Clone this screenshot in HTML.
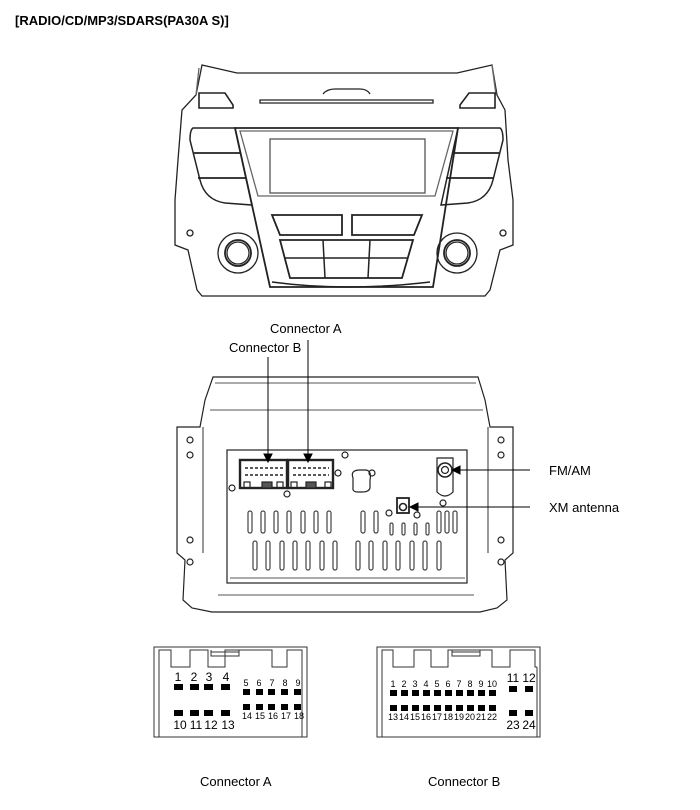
<!DOCTYPE html>
<html><head><meta charset="utf-8"><style>
html,body{margin:0;padding:0;background:#fff;}
svg{display:block;}
text{font-family:"Liberation Sans",Arial,sans-serif;fill:#000;}
</style></head><body>
<svg width="700" height="810" viewBox="0 0 700 810" xmlns="http://www.w3.org/2000/svg">
<text x="15" y="25" font-size="13" font-weight="bold">[RADIO/CD/MP3/SDARS(PA30A S)]</text>

<!-- FRONT PANEL -->
<g fill="none" stroke="#222" stroke-width="1.3">
  <path d="M202,65 L237,73 L457,73 L492,65 L497,95 L505,110 L508,160 L513,200 L513,245 L500,250 L490,290 L485,296 L202,296 L197,290 L188,250 L175,245 L175,200 L178,160 L182,110 L196,95 Z"/>
  <path d="M196,95 L199,68 M492,65 L496,95" stroke="#666"/>
  <path d="M260,100 L433,100 L433,103 L260,103 Z"/>
  <path d="M323,94 Q327,89 335,89 L360,89 Q367,89 370,94"/>
  <path d="M199,93 L225,93 L233,105 L233,108 L199,108 Z" stroke-width="1.6"/>
  <path d="M469,93 L495,93 L495,108 L460,108 L460,105 Z" stroke-width="1.6"/>
  <path d="M235,128 L458,128 L433,287 L270,287 Z" stroke-width="1.8"/>
  <path d="M240,131 L453,131 L435,196 L258,196 Z" stroke="#666"/>
  <rect x="270" y="139" width="155" height="54" stroke="#555"/>
  <path d="M193,128 L235,128 L252,205 L225,203 Q205,200 200,180 L190,140 Q190,130 193,128 Z" stroke-width="1.5"/>
  <path d="M194,153 L240,153 M198,178 L246,178" stroke-width="1.8"/>
  <path d="M458,128 L500,128 Q503,130 503,140 L493,180 Q488,200 468,203 L441,205 Z" stroke-width="1.5"/>
  <path d="M452,153 L499,153 M446,178 L494,178" stroke-width="1.8"/>
  <path d="M272,215 L342,215 L342,235 L280,235 Z" stroke-width="1.8"/>
  <path d="M352,215 L422,215 L414,235 L352,235 Z" stroke-width="1.8"/>
  <path d="M280,240 L413,240 L402,278 L290,278 Z" stroke-width="1.8"/>
  <path d="M323,240 L325,278 M370,240 L368,278 M284,258 L408,258" stroke-width="1.5"/>
  <path d="M272,282 Q346,292 430,282" stroke-width="1.5"/>
  <circle cx="238" cy="253" r="20"/><circle cx="238" cy="253" r="13" stroke-width="1.8"/><circle cx="238" cy="253" r="11"/>
  <circle cx="457" cy="253" r="20"/><circle cx="457" cy="253" r="13" stroke-width="1.8"/><circle cx="457" cy="253" r="11"/>
  <circle cx="190" cy="233" r="3"/><circle cx="503" cy="233" r="3"/>
</g>

<text x="270" y="333" font-size="13">Connector A</text>
<text x="229" y="352" font-size="13">Connector B</text>

<!-- REAR VIEW -->
<g fill="none" stroke="#222" stroke-width="1.2">
  <path d="M213,377 L478,377 L485,400 L490,427 L513,427 L513,553 L505,560 L507,600 L497,608 L480,612 L212,612 L192,608 L183,600 L185,560 L177,553 L177,427 L200,427 L205,400 Z"/>
  <path d="M215,383 L476,383 M210,410 L483,410" stroke="#777"/>
  <rect x="227" y="450" width="240" height="133"/>
  <path d="M230,578 L465,578 M218,595 L474,595" stroke="#777"/>
  <path d="M203,427 L203,553 M488,427 L488,553" stroke="#555"/>
  <circle cx="190" cy="440" r="3"/><circle cx="190" cy="455" r="3"/><circle cx="190" cy="540" r="3"/><circle cx="190" cy="562" r="3"/>
  <circle cx="501" cy="440" r="3"/><circle cx="501" cy="455" r="3"/><circle cx="501" cy="540" r="3"/><circle cx="501" cy="562" r="3"/>
  <rect x="240" y="460" width="47" height="28" stroke-width="2.4"/>
  <rect x="288" y="460" width="45" height="28" stroke-width="2.4"/>
  <path d="M245,468 L283,468 M245,475 L283,475 M293,468 L329,468 M293,475 L329,475" stroke-dasharray="3,2" stroke-width="1.4"/>
  <rect x="244" y="482" width="6" height="6"/><rect x="262" y="482" width="10" height="6" fill="#555"/><rect x="277" y="482" width="6" height="6"/>
  <rect x="291" y="482" width="6" height="6"/><rect x="306" y="482" width="10" height="6" fill="#555"/><rect x="325" y="482" width="6" height="6"/>
  <path d="M353,478 Q350,470 360,470 L365,470 Q372,470 370,480 L370,487 Q370,492 362,492 L358,492 Q352,492 353,487 Z"/>
  <circle cx="345" cy="455" r="3"/><circle cx="338" cy="473" r="3"/><circle cx="372" cy="473" r="3"/>
  <circle cx="287" cy="494" r="3"/><circle cx="232" cy="488" r="3"/><circle cx="443" cy="503" r="3"/>
  <circle cx="389" cy="513" r="3"/><circle cx="417" cy="515" r="3"/>
  <path d="M437,458 L453,458 L453,492 Q445,500 437,492 Z"/>
  <circle cx="445" cy="470" r="7" stroke-width="1.6"/><circle cx="445" cy="470" r="3.5"/>
  <rect x="397" y="498" width="12" height="15" stroke-width="1.8"/>
  <circle cx="403" cy="507" r="3.5" stroke-width="1.6"/>
  <g stroke="#444">
    <rect x="248" y="511" width="4" height="22" rx="2"/><rect x="261" y="511" width="4" height="22" rx="2"/>
    <rect x="274" y="511" width="4" height="22" rx="2"/><rect x="287" y="511" width="4" height="22" rx="2"/>
    <rect x="301" y="511" width="4" height="22" rx="2"/><rect x="314" y="511" width="4" height="22" rx="2"/>
    <rect x="327" y="511" width="4" height="22" rx="2"/>
    <rect x="361" y="511" width="4" height="22" rx="2"/><rect x="374" y="511" width="4" height="22" rx="2"/>
    <rect x="437" y="511" width="4" height="22" rx="2"/><rect x="445" y="511" width="4" height="22" rx="2"/>
    <rect x="453" y="511" width="4" height="22" rx="2"/>
    <rect x="253" y="541" width="4" height="29" rx="2"/><rect x="266" y="541" width="4" height="29" rx="2"/>
    <rect x="280" y="541" width="4" height="29" rx="2"/><rect x="293" y="541" width="4" height="29" rx="2"/>
    <rect x="306" y="541" width="4" height="29" rx="2"/><rect x="320" y="541" width="4" height="29" rx="2"/>
    <rect x="333" y="541" width="4" height="29" rx="2"/><rect x="356" y="541" width="4" height="29" rx="2"/>
    <rect x="369" y="541" width="4" height="29" rx="2"/><rect x="383" y="541" width="4" height="29" rx="2"/>
    <rect x="396" y="541" width="4" height="29" rx="2"/><rect x="410" y="541" width="4" height="29" rx="2"/>
    <rect x="423" y="541" width="4" height="29" rx="2"/><rect x="437" y="541" width="4" height="29" rx="2"/>
    <rect x="390" y="523" width="3" height="12" rx="1.5"/><rect x="402" y="523" width="3" height="12" rx="1.5"/>
    <rect x="414" y="523" width="3" height="12" rx="1.5"/><rect x="426" y="523" width="3" height="12" rx="1.5"/>
  </g>
</g>
<g stroke="#000" stroke-width="1" fill="#000">
  <line x1="268" y1="357" x2="268" y2="456"/><polygon points="264,454 272,454 268,462"/>
  <line x1="308" y1="340" x2="308" y2="456"/><polygon points="304,454 312,454 308,462"/>
  <line x1="455" y1="470" x2="530" y2="470"/><polygon points="452,470 460,466 460,474"/>
  <line x1="413" y1="507" x2="530" y2="507"/><polygon points="410,507 418,503 418,511"/>
</g>
<text x="549" y="475" font-size="13">FM/AM</text>
<text x="549" y="512" font-size="13">XM antenna</text>

<!-- CONNECTOR A -->
<g fill="none" stroke="#333" stroke-width="1">
  <rect x="154" y="647" width="153" height="90"/>
  <path d="M159,737 L159,650 L171,650 L171,667 L190,667 L190,650 L208,650 L208,667 L225,667 L225,650 L272,650 L272,667 L287,667 L287,650 L302,650 L302,737"/>
  <path d="M211,650 L211,656 L239,656 L239,650 M211,652 L239,652"/>
</g>
<g fill="#000">
  <rect x="174" y="684" width="9" height="6"/><rect x="190" y="684" width="9" height="6"/><rect x="204" y="684" width="9" height="6"/><rect x="221" y="684" width="9" height="6"/>
  <rect x="174" y="710" width="9" height="6"/><rect x="190" y="710" width="9" height="6"/><rect x="204" y="710" width="9" height="6"/><rect x="221" y="710" width="9" height="6"/>
  <rect x="243" y="689" width="7" height="6"/><rect x="256" y="689" width="7" height="6"/><rect x="268" y="689" width="7" height="6"/><rect x="281" y="689" width="7" height="6"/><rect x="294" y="689" width="7" height="6"/>
  <rect x="243" y="704" width="7" height="6"/><rect x="256" y="704" width="7" height="6"/><rect x="268" y="704" width="7" height="6"/><rect x="281" y="704" width="7" height="6"/><rect x="294" y="704" width="7" height="6"/>
</g>
<g font-size="12" text-anchor="middle">
  <text x="178" y="681">1</text><text x="194" y="681">2</text><text x="209" y="681">3</text><text x="226" y="681">4</text>
  <text x="180" y="729">10</text><text x="196" y="729">11</text><text x="211" y="729">12</text><text x="228" y="729">13</text>
</g>
<g font-size="9" text-anchor="middle">
  <text x="246" y="686">5</text><text x="259" y="686">6</text><text x="272" y="686">7</text><text x="285" y="686">8</text><text x="298" y="686">9</text>
  <text x="247" y="719">14</text><text x="260" y="719">15</text><text x="273" y="719">16</text><text x="286" y="719">17</text><text x="299" y="719">18</text>
</g>
<text x="200" y="786" font-size="13">Connector A</text>

<!-- CONNECTOR B -->
<g fill="none" stroke="#333" stroke-width="1">
  <rect x="377" y="647" width="163" height="90"/>
  <path d="M382,737 L382,650 L393,650 L393,667 L414,667 L414,650 L431,650 L431,667 L448,667 L448,650 L492,650 L492,667 L510,667 L510,650 L535,650 L535,667 L537,667"/>
  <path d="M452,650 L452,656 L480,656 L480,650 M452,652 L480,652"/>
  <path d="M537,667 L537,737"/>
</g>
<g fill="#000">
  <rect x="390" y="690" width="7" height="6"/><rect x="401" y="690" width="7" height="6"/><rect x="412" y="690" width="7" height="6"/><rect x="423" y="690" width="7" height="6"/><rect x="434" y="690" width="7" height="6"/>
  <rect x="445" y="690" width="7" height="6"/><rect x="456" y="690" width="7" height="6"/><rect x="467" y="690" width="7" height="6"/><rect x="478" y="690" width="7" height="6"/><rect x="489" y="690" width="7" height="6"/>
  <rect x="390" y="705" width="7" height="6"/><rect x="401" y="705" width="7" height="6"/><rect x="412" y="705" width="7" height="6"/><rect x="423" y="705" width="7" height="6"/><rect x="434" y="705" width="7" height="6"/>
  <rect x="445" y="705" width="7" height="6"/><rect x="456" y="705" width="7" height="6"/><rect x="467" y="705" width="7" height="6"/><rect x="478" y="705" width="7" height="6"/><rect x="489" y="705" width="7" height="6"/>
  <rect x="509" y="686" width="8" height="6"/><rect x="525" y="686" width="8" height="6"/>
  <rect x="509" y="710" width="8" height="6"/><rect x="525" y="710" width="8" height="6"/>
</g>
<g font-size="9" text-anchor="middle">
  <text x="393" y="687">1</text><text x="404" y="687">2</text><text x="415" y="687">3</text><text x="426" y="687">4</text><text x="437" y="687">5</text>
  <text x="448" y="687">6</text><text x="459" y="687">7</text><text x="470" y="687">8</text><text x="481" y="687">9</text><text x="492" y="687">10</text>
  <text x="393" y="720">13</text><text x="404" y="720">14</text><text x="415" y="720">15</text><text x="426" y="720">16</text><text x="437" y="720">17</text>
  <text x="448" y="720">18</text><text x="459" y="720">19</text><text x="470" y="720">20</text><text x="481" y="720">21</text><text x="492" y="720">22</text>
</g>
<g font-size="12" text-anchor="middle">
  <text x="513" y="682">11</text><text x="529" y="682">12</text>
  <text x="513" y="729">23</text><text x="529" y="729">24</text>
</g>
<text x="428" y="786" font-size="13">Connector B</text>
</svg>
</body></html>
